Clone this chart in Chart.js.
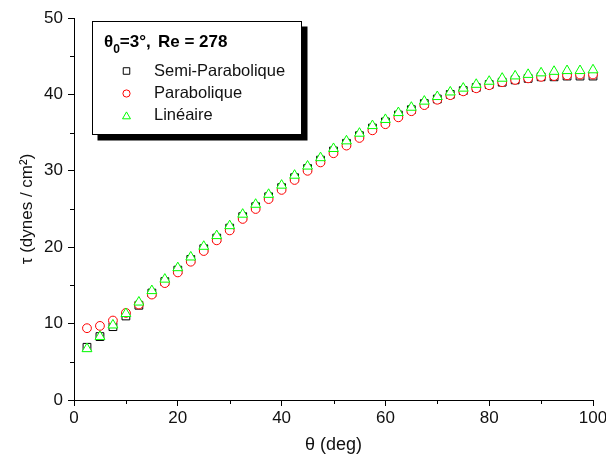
<!DOCTYPE html>
<html>
<head>
<meta charset="utf-8">
<script src="https://cdn.jsdelivr.net/npm/chart.js@4/dist/chart.umd.min.js"></script>
<style>
  html, body { margin: 0; padding: 0; background: #fff; }
  #wrap { width: 606px; height: 468px; position: relative; }
</style>
</head>
<body>
<div id="wrap"><canvas id="c"></canvas></div>
<script>
// Wall shear stress versus angular position, three velocity profiles
const angles = [2.5, 5, 7.5, 10, 12.5, 15, 17.5, 20, 22.5, 25, 27.5, 30, 32.5, 35, 37.5, 40,
  42.5, 45, 47.5, 50, 52.5, 55, 57.5, 60, 62.5, 65, 67.5, 70, 72.5, 75, 77.5, 80,
  82.5, 85, 87.5, 90, 92.5, 95, 97.5, 100];

const semiParabolique = [6.9, 8.3, 9.6, 11.0, 12.4, 14.0, 15.5, 17.0, 18.4, 19.8, 21.2, 22.5,
  24.0, 25.3, 26.6, 27.8, 29.1, 30.3, 31.4, 32.6, 33.6, 34.6, 35.6, 36.4, 37.3, 38.0,
  38.8, 39.4, 40.0, 40.5, 40.9, 41.3, 41.6, 41.9, 42.1, 42.3, 42.3, 42.4, 42.4, 42.4];

const parabolique = [9.4, 9.7, 10.4, 11.4, 12.5, 13.8, 15.3, 16.7, 18.1, 19.5, 20.9, 22.2,
  23.7, 25.0, 26.3, 27.5, 28.8, 30.0, 31.1, 32.3, 33.3, 34.3, 35.3, 36.1, 37.0, 37.8,
  38.6, 39.3, 39.9, 40.4, 40.8, 41.2, 41.6, 41.9, 42.1, 42.3, 42.4, 42.5, 42.6, 42.6];

const lineaire = [6.7, 8.3, 9.8, 11.3, 12.8, 14.3, 15.8, 17.3, 18.7, 20.1, 21.5, 22.8,
  24.3, 25.6, 26.9, 28.1, 29.4, 30.6, 31.7, 32.9, 33.9, 34.9, 35.9, 36.7, 37.6, 38.3,
  39.1, 39.7, 40.3, 40.8, 41.3, 41.7, 42.1, 42.4, 42.6, 42.8, 43.0, 43.1, 43.1, 43.2];

const seriesNames = ['Semi-Parabolique', 'Parabolique', 'Linéaire'];
const xTicks = [0, 20, 40, 60, 80, 100];
const yTicks = [0, 10, 20, 30, 40, 50];
const xMinorTicks = [10, 30, 50, 70, 90];
const yMinorTicks = [5, 15, 25, 35, 45];

const FONT = "'Liberation Sans', Arial, sans-serif";

function pairs(ys) {
  return angles.map((a, i) => ({ x: a, y: ys[i] }));
}

const markerStyles = [
  { pointStyle: 'rect', color: '#000000', radius: 5.5, order: 2 },
  { pointStyle: 'circle', color: '#ff0000', radius: 4.4, order: 1 },
  { pointStyle: 'triangle', color: '#00ff00', radius: 5.7, order: 0 }
];

const seriesData = [semiParabolique, parabolique, lineaire];

const datasets = seriesData.map((ys, i) => ({
  label: seriesNames[i],
  data: pairs(ys),
  showLine: false,
  pointStyle: markerStyles[i].pointStyle,
  pointRadius: markerStyles[i].radius,
  pointHoverRadius: markerStyles[i].radius,
  pointBorderColor: markerStyles[i].color,
  pointBackgroundColor: '#ffffff',
  pointBorderWidth: 1,
  order: markerStyles[i].order,
  clip: false
}));

// Short outward minor ticks between the labelled ones
const minorTicks = {
  id: 'minorTicks',
  afterDraw(chart) {
    const { ctx, scales: { x, y }, chartArea } = chart;
    ctx.save();
    ctx.strokeStyle = '#000';
    ctx.lineWidth = 1;
    ctx.beginPath();
    xMinorTicks.forEach(v => {
      const px = Math.round(x.getPixelForValue(v)) + 0.5;
      ctx.moveTo(px, chartArea.bottom);
      ctx.lineTo(px, chartArea.bottom + 4);
    });
    yMinorTicks.forEach(v => {
      const py = Math.round(y.getPixelForValue(v)) + 0.5;
      ctx.moveTo(chartArea.left, py);
      ctx.lineTo(chartArea.left - 4, py);
    });
    ctx.stroke();
    ctx.restore();
  }
};

// Framed key with drop shadow, carrying the run parameters as a heading
const keyBox = {
  id: 'keyBox',
  afterDraw(chart) {
    const ctx = chart.ctx;
    const bx = 92.5, by = 21.5, bw = 209, bh = 113, shadow = 6;
    ctx.save();
    ctx.fillStyle = '#000';
    ctx.fillRect(bx + shadow - 1, by + shadow - 1, bw + 1, bh + 1);
    ctx.fillStyle = '#fff';
    ctx.fillRect(bx, by, bw, bh);
    ctx.strokeStyle = '#000';
    ctx.lineWidth = 1;
    ctx.strokeRect(bx, by, bw, bh);

    // heading: θ0=3°,  Re = 278
    ctx.fillStyle = '#000';
    ctx.textBaseline = 'alphabetic';
    ctx.textAlign = 'left';
    let tx = 104;
    const ty = 47;
    ctx.font = 'bold 17px ' + FONT;
    ctx.fillText('θ', tx, ty);
    tx += ctx.measureText('θ').width;
    ctx.font = 'bold 12px ' + FONT;
    ctx.fillText('0', tx, ty + 6);
    tx += ctx.measureText('0').width;
    ctx.font = 'bold 17px ' + FONT;
    ctx.fillText('=3°,', tx, ty);
    ctx.fillText('Re = 278', 158, ty);

    // entries
    const rowY = [71, 93.5, 115.5];
    chart.data.datasets.forEach((ds, i) => {
      const my = rowY[i];
      ctx.strokeStyle = markerStyles[i].color;
      ctx.fillStyle = '#fff';
      ctx.lineWidth = 1;
      Chart.helpers.drawPoint(ctx, {
        pointStyle: markerStyles[i].pointStyle,
        radius: markerStyles[i].pointStyle === 'circle' ? 3.6 : 4.6,
        rotation: 0,
        borderWidth: 1
      }, 126.5, my + (markerStyles[i].pointStyle === 'triangle' ? 1 : 0));
      ctx.fillStyle = '#111';
      ctx.font = '16.5px ' + FONT;
      ctx.textBaseline = 'middle';
      ctx.fillText(ds.label, 154, my);
      ctx.textBaseline = 'alphabetic';
    });
    ctx.restore();
  }
};

new Chart(document.getElementById('c'), {
  type: 'scatter',
  data: { datasets },
  options: {
    responsive: true,
    maintainAspectRatio: false,
    animation: false,
    events: [],
    layout: { padding: { left: 0, right: 13, top: 18, bottom: 0 } },
    plugins: {
      legend: { display: false },
      tooltip: { enabled: false }
    },
    scales: {
      x: {
        type: 'linear',
        position: 'bottom',
        min: 0,
        max: 100,
        afterBuildTicks: s => { s.ticks = xTicks.map(v => ({ value: v })); },
        afterFit: s => {
          s.height = 68;
          s.paddingLeft = 0; s.paddingRight = 0;
        },
        grid: { display: true, drawOnChartArea: false, tickLength: 6, color: '#000', tickColor: '#000', lineWidth: 1 },
        border: { display: true, color: '#000', width: 1 },
        ticks: { color: '#111', font: { family: FONT, size: 17 }, padding: 2, maxRotation: 0, autoSkip: false },
        title: { display: true, text: 'θ (deg)', color: '#111', font: { family: FONT, size: 18 }, padding: { top: 0, bottom: 12 } }
      },
      y: {
        type: 'linear',
        position: 'left',
        min: 0,
        max: 50,
        afterBuildTicks: s => { s.ticks = yTicks.map(v => ({ value: v })); },
        afterFit: s => {
          s.width = 74;
          s.paddingTop = 0; s.paddingBottom = 0;
        },
        grid: { display: true, drawOnChartArea: false, tickLength: 6, color: '#000', tickColor: '#000', lineWidth: 1 },
        border: { display: true, color: '#000', width: 1 },
        ticks: { color: '#111', font: { family: FONT, size: 17 }, padding: 5, autoSkip: false },
        title: { display: true, text: 'τ (dynes / cm²)', color: '#111', font: { family: FONT, size: 17 }, padding: { top: 17, bottom: 0 } }
      }
    }
  },
  plugins: [minorTicks, keyBox]
});
</script>
</body>
</html>
